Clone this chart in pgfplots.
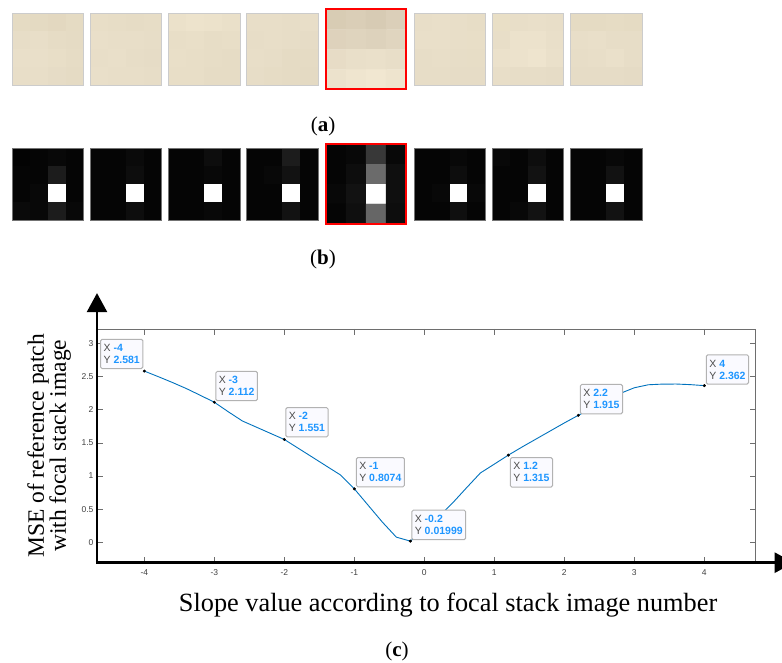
\documentclass[border=0pt]{standalone}
\usepackage{pgfplots}
\pgfplotsset{compat=1.18}
\usepackage{fontspec}
\setmainfont{Liberation Serif}
\setsansfont{Liberation Sans}
\usetikzlibrary{arrows.meta}

\definecolor{mlblue}{RGB}{0,114,189}
\definecolor{tipblue}{RGB}{30,150,255}
\definecolor{tipfill}{RGB}{250,250,255}
\definecolor{framegray}{RGB}{110,110,110}

\newcommand{\tv}[1]{\textcolor{tipblue}{\bfseries #1}}

\tikzset{
  dtip/.style={draw=black!30, line width=1pt, fill=tipfill, rounded corners=1.5pt,
    inner xsep=3pt, inner ysep=5pt, align=left,
    font=\fontsize{10.5}{12}\selectfont\sffamily, text=black!70},
  panel/.style={font=\fontsize{21}{24}\selectfont, anchor=base},
}

\pgfplotsset{
  imgsq/.style={scale only axis, width=71.5pt, height=71.5pt,
    xmin=-0.5, xmax=3.5, ymin=-0.5, ymax=3.5, y dir=reverse,
    ticks=none, anchor=north west, axis on top,
    axis line style={black!20, line width=0.8pt}},
  imgsqb/.style={imgsq, axis line style={black!55, line width=0.8pt}},
  imgsqred/.style={imgsq, width=80pt, height=80pt,
    axis line style={red, line width=2pt}},
  cellplot/.style={matrix plot*, mesh/cols=4, mesh/color input=explicit,
    point meta=explicit symbolic},
}

\begin{document}
\begin{tikzpicture}
\useasboundingbox (0,0) rectangle (782pt,662pt);

% ---- row (a): colour patches
\begin{axis}[imgsq, at={(12.3pt,648.5pt)}]
\addplot[cellplot] table[meta=c, row sep=\\] {
x y c\\
0 0 rgb255=229,219,195\\ 1 0 rgb255=228,218,194\\ 2 0 rgb255=227,216,192\\ 3 0 rgb255=229,219,195\\
0 1 rgb255=231,221,199\\ 1 1 rgb255=232,222,200\\ 2 1 rgb255=230,220,197\\ 3 1 rgb255=229,219,196\\
0 2 rgb255=233,223,201\\ 1 2 rgb255=233,223,201\\ 2 2 rgb255=232,222,199\\ 3 2 rgb255=230,220,197\\
0 3 rgb255=232,222,200\\ 1 3 rgb255=232,222,200\\ 2 3 rgb255=230,220,198\\ 3 3 rgb255=229,219,196\\
};
\end{axis}
\begin{axis}[imgsq, at={(90.3pt,648.5pt)}]
\addplot[cellplot] table[meta=c, row sep=\\] {
x y c\\
0 0 rgb255=232,222,199\\ 1 0 rgb255=231,221,198\\ 2 0 rgb255=230,220,197\\ 3 0 rgb255=231,221,198\\
0 1 rgb255=233,223,201\\ 1 1 rgb255=232,222,200\\ 2 1 rgb255=232,222,200\\ 3 1 rgb255=231,221,199\\
0 2 rgb255=232,222,200\\ 1 2 rgb255=233,223,201\\ 2 2 rgb255=231,221,199\\ 3 2 rgb255=230,220,198\\
0 3 rgb255=233,223,201\\ 1 3 rgb255=232,222,200\\ 2 3 rgb255=232,222,200\\ 3 3 rgb255=231,221,199\\
};
\end{axis}
\begin{axis}[imgsq, at={(168.5pt,648.5pt)}]
\addplot[cellplot] table[meta=c, row sep=\\] {
x y c\\
0 0 rgb255=235,225,202\\ 1 0 rgb255=237,227,204\\ 2 0 rgb255=236,226,203\\ 3 0 rgb255=234,224,201\\
0 1 rgb255=232,222,199\\ 1 1 rgb255=233,223,200\\ 2 1 rgb255=231,221,198\\ 3 1 rgb255=232,222,199\\
0 2 rgb255=233,223,200\\ 1 2 rgb255=232,222,199\\ 2 2 rgb255=231,221,198\\ 3 2 rgb255=230,220,197\\
0 3 rgb255=232,222,199\\ 1 3 rgb255=232,222,199\\ 2 3 rgb255=230,220,197\\ 3 3 rgb255=230,220,197\\
};
\end{axis}
\begin{axis}[imgsq, at={(246.5pt,648.5pt)}]
\addplot[cellplot] table[meta=c, row sep=\\] {
x y c\\
0 0 rgb255=232,222,200\\ 1 0 rgb255=232,222,200\\ 2 0 rgb255=231,221,199\\ 3 0 rgb255=232,222,200\\
0 1 rgb255=231,221,199\\ 1 1 rgb255=232,222,200\\ 2 1 rgb255=231,221,199\\ 3 1 rgb255=230,220,198\\
0 2 rgb255=232,222,200\\ 1 2 rgb255=231,221,199\\ 2 2 rgb255=229,219,196\\ 3 2 rgb255=229,219,196\\
0 3 rgb255=231,221,199\\ 1 3 rgb255=230,220,197\\ 2 3 rgb255=229,219,196\\ 3 3 rgb255=228,218,195\\
};
\end{axis}
\begin{axis}[imgsqred, at={(326pt,652.7pt)}]
\addplot[cellplot] table[meta=c, row sep=\\] {
x y c\\
0 0 rgb255=216,204,180\\ 1 0 rgb255=218,206,183\\ 2 0 rgb255=215,203,180\\ 3 0 rgb255=219,207,185\\
0 1 rgb255=222,210,188\\ 1 1 rgb255=223,212,190\\ 2 1 rgb255=221,210,188\\ 3 1 rgb255=224,213,191\\
0 2 rgb255=231,220,198\\ 1 2 rgb255=233,223,201\\ 2 2 rgb255=234,224,202\\ 3 2 rgb255=232,222,200\\
0 3 rgb255=236,226,204\\ 1 3 rgb255=239,229,207\\ 2 3 rgb255=241,231,209\\ 3 3 rgb255=238,228,206\\
};
\end{axis}
\begin{axis}[imgsq, at={(414pt,648.5pt)}]
\addplot[cellplot] table[meta=c, row sep=\\] {
x y c\\
0 0 rgb255=232,222,200\\ 1 0 rgb255=233,223,201\\ 2 0 rgb255=232,222,200\\ 3 0 rgb255=231,221,198\\
0 1 rgb255=233,223,201\\ 1 1 rgb255=233,223,201\\ 2 1 rgb255=232,222,200\\ 3 1 rgb255=232,222,199\\
0 2 rgb255=231,221,199\\ 1 2 rgb255=232,222,200\\ 2 2 rgb255=231,221,199\\ 3 2 rgb255=231,221,198\\
0 3 rgb255=231,221,199\\ 1 3 rgb255=231,221,199\\ 2 3 rgb255=230,220,198\\ 3 3 rgb255=230,220,198\\
};
\end{axis}
\begin{axis}[imgsq, at={(492.3pt,648.5pt)}]
\addplot[cellplot] table[meta=c, row sep=\\] {
x y c\\
0 0 rgb255=233,223,198\\ 1 0 rgb255=232,222,200\\ 2 0 rgb255=233,223,201\\ 3 0 rgb255=232,222,200\\
0 1 rgb255=232,222,200\\ 1 1 rgb255=236,226,204\\ 2 1 rgb255=236,226,204\\ 3 1 rgb255=233,223,201\\
0 2 rgb255=235,225,203\\ 1 2 rgb255=236,226,204\\ 2 2 rgb255=238,228,206\\ 3 2 rgb255=234,224,202\\
0 3 rgb255=232,222,200\\ 1 3 rgb255=231,221,199\\ 2 3 rgb255=231,221,199\\ 3 3 rgb255=230,220,198\\
};
\end{axis}
\begin{axis}[imgsq, at={(570.8pt,648.5pt)}]
\addplot[cellplot] table[meta=c, row sep=\\] {
x y c\\
0 0 rgb255=229,219,195\\ 1 0 rgb255=229,219,195\\ 2 0 rgb255=230,220,196\\ 3 0 rgb255=229,219,195\\
0 1 rgb255=232,222,200\\ 1 1 rgb255=233,223,201\\ 2 1 rgb255=231,221,199\\ 3 1 rgb255=231,221,199\\
0 2 rgb255=231,221,199\\ 1 2 rgb255=232,222,200\\ 2 2 rgb255=234,224,202\\ 3 2 rgb255=231,221,199\\
0 3 rgb255=230,220,198\\ 1 3 rgb255=230,220,198\\ 2 3 rgb255=230,220,198\\ 3 3 rgb255=229,219,197\\
};
\end{axis}

% ---- row (b): grey patches
\begin{axis}[imgsqb, at={(12.3pt,513.5pt)}]
\addplot[cellplot] table[meta=c, row sep=\\] {
x y c\\
0 0 gray=0.01\\ 1 0 gray=0.02\\ 2 0 gray=0.03\\ 3 0 gray=0.02\\
0 1 gray=0.02\\ 1 1 gray=0.02\\ 2 1 gray=0.11\\ 3 1 gray=0.02\\
0 2 gray=0.02\\ 1 2 gray=0.03\\ 2 2 gray=1\\ 3 2 gray=0.02\\
0 3 gray=0.04\\ 1 3 gray=0.03\\ 2 3 gray=0.11\\ 3 3 gray=0.03\\
};
\end{axis}
\begin{axis}[imgsqb, at={(90.3pt,513.5pt)}]
\addplot[cellplot] table[meta=c, row sep=\\] {
x y c\\
0 0 gray=0.02\\ 1 0 gray=0.02\\ 2 0 gray=0.04\\ 3 0 gray=0.02\\
0 1 gray=0.02\\ 1 1 gray=0.02\\ 2 1 gray=0.05\\ 3 1 gray=0.02\\
0 2 gray=0.02\\ 1 2 gray=0.02\\ 2 2 gray=1\\ 3 2 gray=0.02\\
0 3 gray=0.02\\ 1 3 gray=0.02\\ 2 3 gray=0.05\\ 3 3 gray=0.02\\
};
\end{axis}
\begin{axis}[imgsqb, at={(168.5pt,513.5pt)}]
\addplot[cellplot] table[meta=c, row sep=\\] {
x y c\\
0 0 gray=0.02\\ 1 0 gray=0.02\\ 2 0 gray=0.05\\ 3 0 gray=0.02\\
0 1 gray=0.02\\ 1 1 gray=0.02\\ 2 1 gray=0.03\\ 3 1 gray=0.02\\
0 2 gray=0.02\\ 1 2 gray=0.02\\ 2 2 gray=1\\ 3 2 gray=0.02\\
0 3 gray=0.02\\ 1 3 gray=0.02\\ 2 3 gray=0.03\\ 3 3 gray=0.02\\
};
\end{axis}
\begin{axis}[imgsqb, at={(246.5pt,513.5pt)}]
\addplot[cellplot] table[meta=c, row sep=\\] {
x y c\\
0 0 gray=0.02\\ 1 0 gray=0.02\\ 2 0 gray=0.11\\ 3 0 gray=0.02\\
0 1 gray=0.02\\ 1 1 gray=0.03\\ 2 1 gray=0.07\\ 3 1 gray=0.02\\
0 2 gray=0.02\\ 1 2 gray=0.02\\ 2 2 gray=1\\ 3 2 gray=0.02\\
0 3 gray=0.02\\ 1 3 gray=0.02\\ 2 3 gray=0.07\\ 3 3 gray=0.02\\
};
\end{axis}
\begin{axis}[imgsqred, at={(326pt,518pt)}]
\addplot[cellplot] table[meta=c, row sep=\\] {
x y c\\
0 0 gray=0.02\\ 1 0 gray=0.03\\ 2 0 gray=0.22\\ 3 0 gray=0.03\\
0 1 gray=0.02\\ 1 1 gray=0.05\\ 2 1 gray=0.42\\ 3 1 gray=0.06\\
0 2 gray=0.03\\ 1 2 gray=0.07\\ 2 2 gray=1\\ 3 2 gray=0.06\\
0 3 gray=0.02\\ 1 3 gray=0.06\\ 2 3 gray=0.40\\ 3 3 gray=0.05\\
};
\end{axis}
\begin{axis}[imgsqb, at={(414pt,513.5pt)}]
\addplot[cellplot] table[meta=c, row sep=\\] {
x y c\\
0 0 gray=0.02\\ 1 0 gray=0.02\\ 2 0 gray=0.03\\ 3 0 gray=0.02\\
0 1 gray=0.02\\ 1 1 gray=0.02\\ 2 1 gray=0.05\\ 3 1 gray=0.02\\
0 2 gray=0.02\\ 1 2 gray=0.03\\ 2 2 gray=1\\ 3 2 gray=0.03\\
0 3 gray=0.02\\ 1 3 gray=0.02\\ 2 3 gray=0.06\\ 3 3 gray=0.02\\
};
\end{axis}
\begin{axis}[imgsqb, at={(492.3pt,513.5pt)}]
\addplot[cellplot] table[meta=c, row sep=\\] {
x y c\\
0 0 gray=0.03\\ 1 0 gray=0.02\\ 2 0 gray=0.05\\ 3 0 gray=0.02\\
0 1 gray=0.02\\ 1 1 gray=0.02\\ 2 1 gray=0.07\\ 3 1 gray=0.02\\
0 2 gray=0.02\\ 1 2 gray=0.02\\ 2 2 gray=1\\ 3 2 gray=0.02\\
0 3 gray=0.02\\ 1 3 gray=0.03\\ 2 3 gray=0.07\\ 3 3 gray=0.02\\
};
\end{axis}
\begin{axis}[imgsqb, at={(570.8pt,513.5pt)}]
\addplot[cellplot] table[meta=c, row sep=\\] {
x y c\\
0 0 gray=0.02\\ 1 0 gray=0.02\\ 2 0 gray=0.03\\ 3 0 gray=0.02\\
0 1 gray=0.02\\ 1 1 gray=0.02\\ 2 1 gray=0.07\\ 3 1 gray=0.02\\
0 2 gray=0.02\\ 1 2 gray=0.02\\ 2 2 gray=1\\ 3 2 gray=0.02\\
0 3 gray=0.02\\ 1 3 gray=0.02\\ 2 3 gray=0.07\\ 3 3 gray=0.02\\
};
\end{axis}

% ---- (c): MSE curve
\begin{axis}[
  at={(97pt,99.3pt)}, anchor=south west,
  scale only axis, width=658.7pt, height=233.7pt,
  xmin=-4.676, xmax=4.734, ymin=-0.305, ymax=3.215,
  xtick={-4,-3,...,4}, ytick={0,0.5,...,3},
  axis line style={framegray, line width=0.7pt},
  major tick style={framegray, line width=0.7pt},
  major tick length=6pt,
  tick label style={font=\fontsize{8.5}{9}\selectfont\sffamily, text=black!75},
  /pgf/number format/assume math mode=true,
  xticklabel shift=3pt,
  clip=false,
  xlabel={Slope value according to focal stack image number},
  xlabel style={font=\fontsize{26.3}{28}\selectfont,
    at={(axis description cs:0.533,-0.2097)}, anchor=base},
  ylabel={MSE of reference patch\\with focal stack image},
  ylabel style={font=\fontsize{23.5}{22}\selectfont, align=center,
    at={(axis description cs:-0.0725,0.5)}, anchor=center},
]
\addplot[mlblue, line width=0.9pt] coordinates {
  (-4.0,2.581) (-3.8,2.497) (-3.6,2.410) (-3.4,2.318) (-3.2,2.216)
  (-3.0,2.112) (-2.8,1.968) (-2.6,1.830) (-2.4,1.737) (-2.2,1.644)
  (-2.0,1.551) (-1.8,1.418) (-1.6,1.285) (-1.4,1.151) (-1.2,1.018)
  (-1.0,0.8074) (-0.8,0.557) (-0.6,0.307) (-0.4,0.080) (-0.2,0.01999)
  (0.0,0.19) (0.2,0.38) (0.4,0.59) (0.6,0.82) (0.8,1.046)
  (1.0,1.18) (1.2,1.315) (1.4,1.44) (1.6,1.56) (1.8,1.68)
  (2.0,1.80) (2.2,1.915) (2.4,2.025) (2.6,2.14) (2.8,2.245)
  (3.0,2.33) (3.2,2.375) (3.4,2.385) (3.6,2.386) (3.8,2.377) (4.0,2.362)
};
\addplot[only marks, mark=*, mark size=1.3pt, black] coordinates {
  (-4,2.581) (-3,2.112) (-2,1.551) (-1,0.8074) (-0.2,0.01999)
  (1.2,1.315) (2.2,1.915) (4,2.362)
};
% thick left and bottom axes with arrow heads
\draw[line width=2.5pt, -{Triangle[length=19pt,width=20pt]}]
  ([xshift=-1.25pt]rel axis cs:0,0) -- (rel axis cs:1.0577,0);
\draw[line width=2.5pt, -{Triangle[length=19pt,width=20pt]}]
  ([yshift=-1.25pt]rel axis cs:0,0) -- (rel axis cs:0,1.1535);
% data tips
\node[dtip, anchor=south east] at ([shift={(-1pt,2pt)}]axis cs:-4,2.581) {X \tv{-4}\\Y \tv{2.581}};
\node[dtip, anchor=south west] at ([shift={(1pt,1pt)}]axis cs:-3,2.112) {X \tv{-3}\\Y \tv{2.112}};
\node[dtip, anchor=south west] at ([shift={(1pt,2pt)}]axis cs:-2,1.551) {X \tv{-2}\\Y \tv{1.551}};
\node[dtip, anchor=south west] at ([shift={(1.5pt,1.5pt)}]axis cs:-1,0.8074) {X \tv{-1}\\Y \tv{0.8074}};
\node[dtip, anchor=south west] at ([shift={(1pt,1pt)}]axis cs:-0.2,0.01999) {X \tv{-0.2}\\Y \tv{0.01999}};
\node[dtip, anchor=north west] at ([shift={(1.5pt,-2pt)}]axis cs:1.2,1.315) {X \tv{1.2}\\Y \tv{1.315}};
\node[dtip, anchor=south west] at ([shift={(1.5pt,1pt)}]axis cs:2.2,1.915) {X \tv{2.2}\\Y \tv{1.915}};
\node[dtip, anchor=south west] at ([shift={(1.5pt,1pt)}]axis cs:4,2.362) {X \tv{4}\\Y \tv{2.362}};
\end{axis}

% panel letters
\node[panel] at (323pt,530.8pt) {(\textbf{a})};
\node[panel] at (323pt,397.7pt) {(\textbf{b})};
\node[panel] at (397pt,6pt) {(\textbf{c})};
\end{tikzpicture}
\end{document}
